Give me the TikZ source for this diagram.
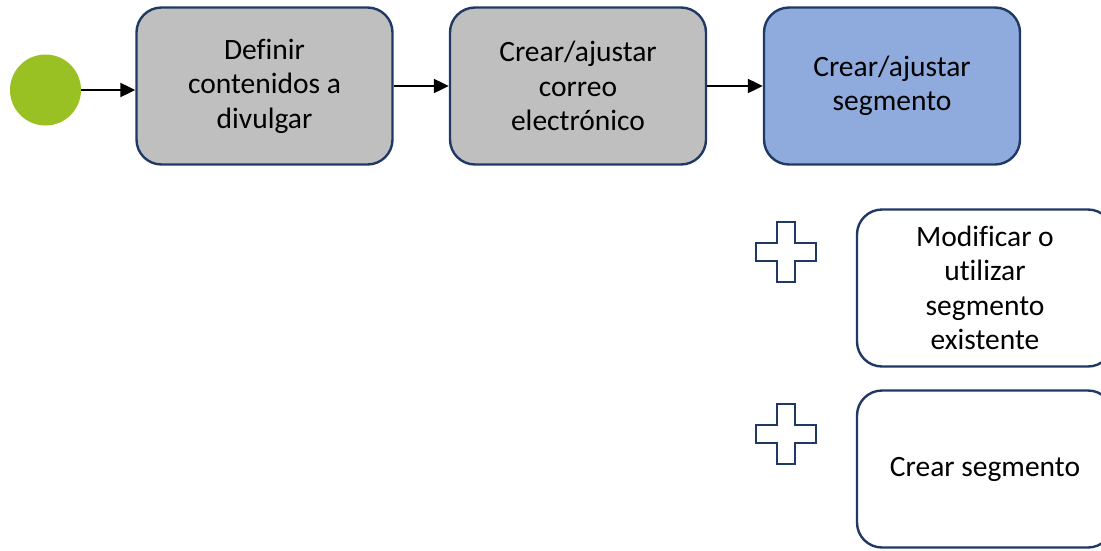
\documentclass[tikz,border=0pt]{standalone}
\usepackage{fontspec}
\setmainfont{Carlito}[Ligatures={NoCommon,NoRare}]
\usetikzlibrary{arrows.meta, positioning}
\definecolor{navy}{HTML}{1F3864}
\definecolor{boxgray}{HTML}{BFBFBF}
\definecolor{boxblue}{HTML}{8FAADC}
\definecolor{startgreen}{HTML}{9AC123}

\begin{document}
\begin{tikzpicture}[x=1pt, y=-1pt,
  task/.style={draw=navy, line width=2.4pt, rounded corners=25pt, minimum width=256pt, minimum height=157pt, align=center, font=\fontsize{29.5}{34.5}\selectfont},
  flow/.style={line width=2.2pt, -{Triangle[length=15pt, width=14pt]}}]
\useasboundingbox (0,0) rectangle (1101,550);
\clip (0,0) rectangle (1101,550);
\node[circle, fill=startgreen, minimum size=71pt, inner sep=0pt] (start) at (45.5,90) {};
\node[task, fill=boxgray] (def) at (264.5,86) {Definir\\contenidos a\\divulgar};
\node[task, fill=boxgray] (mail) at (578,86) {Crear/ajustar\\correo\\electrónico};
\node[task, fill=boxblue] (seg) at (892,86) {Crear/ajustar\\segmento};
\node[task, fill=white] (mod) at (985,288) {Modificar o\\utilizar\\segmento\\existente};
\node[task, fill=white] (new) at (985,469) {Crear segmento};
\draw[flow] (start.east) -- (start.east -| def.west);
\draw[flow] (def) -- (mail);
\draw[flow] (mail) -- (seg);
% signos de suma
\foreach \cy in {252,434}
  \draw[navy, line width=2.4pt, fill=white] (777,\cy-30) -- (795,\cy-30) -- (795,\cy-9) -- (816,\cy-9) -- (816,\cy+9) -- (795,\cy+9) -- (795,\cy+30) -- (777,\cy+30) -- (777,\cy+9) -- (756,\cy+9) -- (756,\cy-9) -- (777,\cy-9) -- cycle;
\end{tikzpicture}
\end{document}
